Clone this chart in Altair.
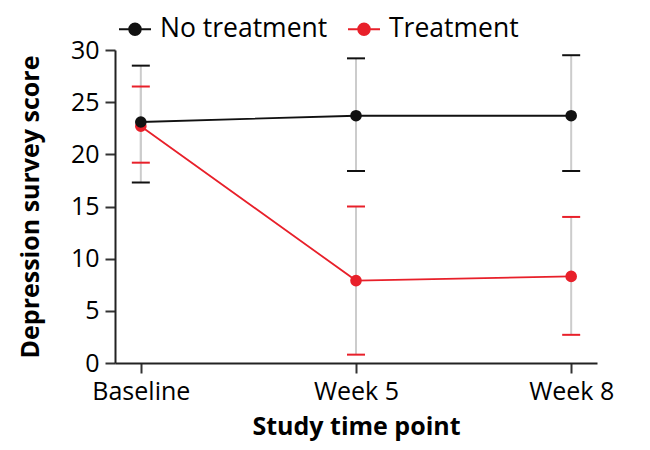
import altair as alt
import pandas as pd

times = ["Baseline", "Week 5", "Week 8"]
series = ["No treatment", "Treatment"]
no_mean = [23.1, 23.7, 23.7]
no_lo = [17.3, 18.4, 18.4]
no_hi = [28.5, 29.2, 29.5]
tr_mean = [22.7, 7.9, 8.3]
tr_lo = [19.2, 0.8, 2.7]
tr_hi = [26.5, 15.0, 14.0]

rows = []
for s, m, lo, hi in [(series[0], no_mean, no_lo, no_hi), (series[1], tr_mean, tr_lo, tr_hi)]:
    for i, t in enumerate(times):
        rows.append({"series": s, "time": t, "mean": m[i], "lo": lo[i], "hi": hi[i], "order": i})
df = pd.DataFrame(rows)

FONT = "Open Sans"
colors = ["#111111", "#e8202a"]


def circ(r):
    return f"M{-r},0 A{r},{r} 0 1,0 {r},0 A{r},{r} 0 1,0 {-r},0 "


legend_path = "M-1,0 L1,0 " + "".join(circ(r) for r in [0.36, 0.27, 0.18, 0.09, 0.03])

x = alt.X("time:N", scale=alt.Scale(type="point", domain=times, padding=0.12), sort=times,
          axis=alt.Axis(title="Study time point", labelAngle=0))
yscale = alt.Scale(domain=[0, 30], nice=False)

legend = alt.Legend(
    title=None, orient="none", direction="horizontal",
    legendX=3, legendY=-38,
    symbolType=legend_path, symbolSize=1024, symbolStrokeWidth=2, symbolOpacity=1,
    labelFontSize=26.5, labelFont=FONT, labelColor="#000", labelLimit=400,
    columnPadding=16, labelOffset=8,
)
color = alt.Color("series:N", scale=alt.Scale(domain=series, range=colors), legend=legend)

base = alt.Chart(df)

bars = base.mark_rule(color="#cccccc", strokeWidth=2).encode(
    x=x, y=alt.Y("lo:Q", scale=yscale, title="Depression survey score"), y2="hi:Q",
    detail="series:N",
)
caps_lo = base.mark_tick(orient="horizontal", size=18, thickness=2, opacity=1).encode(
    x=x, y=alt.Y("lo:Q", scale=yscale), color=color
)
caps_hi = base.mark_tick(orient="horizontal", size=18, thickness=2, opacity=1).encode(
    x=x, y=alt.Y("hi:Q", scale=yscale), color=color
)
lines = base.mark_line(strokeWidth=1.8).encode(
    x=x, y=alt.Y("mean:Q", scale=yscale), color=color, order="order:Q"
)
points = base.mark_point(filled=True, size=135, opacity=1).encode(
    x=x, y=alt.Y("mean:Q", scale=yscale), color=color,
    order=alt.Order("series:N", sort="descending"),
)

chart = alt.layer(bars, caps_lo, caps_hi, lines, points).properties(
    width=482, height=313,
    autosize=alt.AutoSizeParams(type="none"),
    padding={"left": 107, "top": 42, "right": 37, "bottom": 85},
).configure_view(stroke=None).configure_axis(
    labelFont=FONT, titleFont=FONT, labelFontSize=25, titleFontSize=25,
    titleFontWeight="bold", labelColor="#000", titleColor="#000",
    domainColor="#222", domainWidth=2, tickColor="#333", tickWidth=2,
    tickSize=10, grid=False,
).configure_axisY(
    labelPadding=6, titlePadding=27, values=[0, 5, 10, 15, 20, 25, 30],
).configure_axisX(
    labelPadding=6, titlePadding=10,
)

chart.save("out.html", embed_options={"renderer": "svg", "actions": False})
